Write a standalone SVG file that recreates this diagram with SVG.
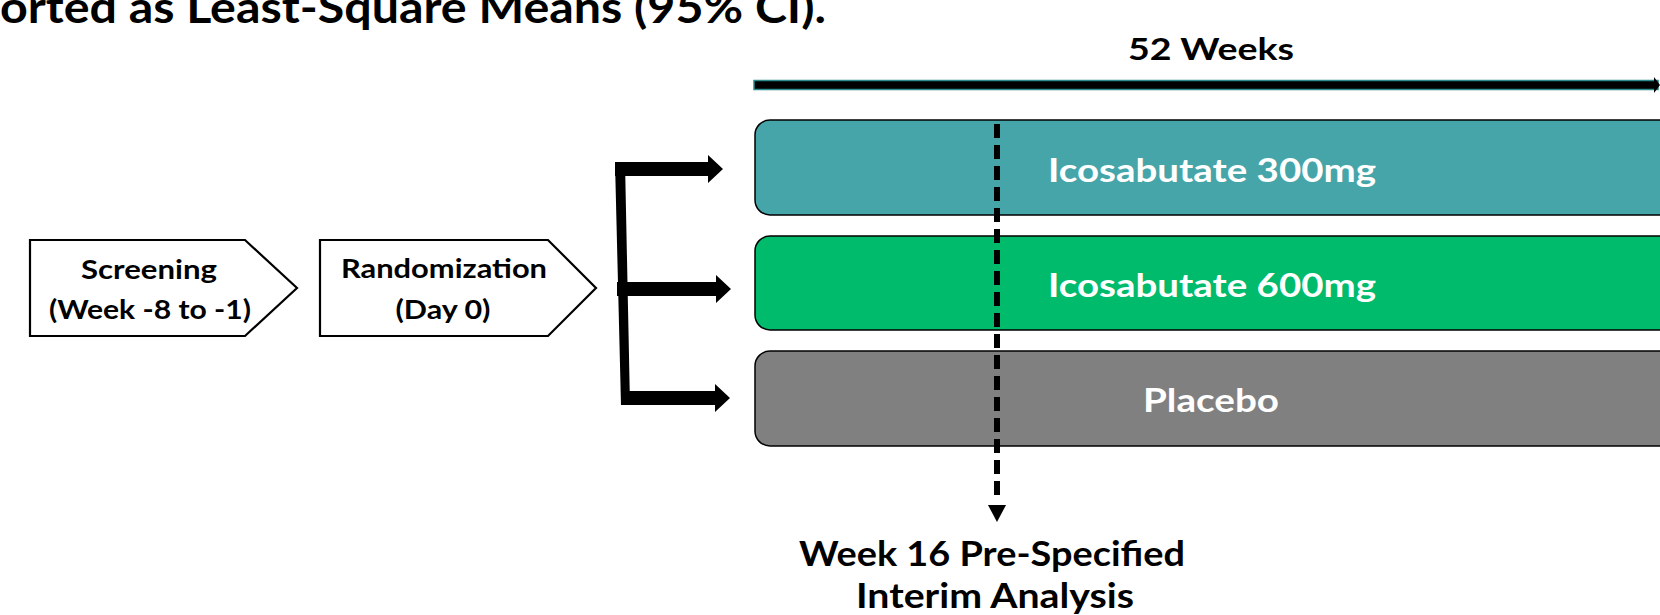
<svg xmlns="http://www.w3.org/2000/svg" width="1660" height="615" viewBox="0 0 1660 615">
<defs>
<style>
.t{font-family:Lato,"Open Sans","Liberation Sans",sans-serif;font-weight:700;fill:#000}
.w{fill:#fff}
.step{fill:#fff;stroke:#000;stroke-width:2.2}
.arm{stroke:#000;stroke-width:1.5}
.conn{fill:#000}
</style>
</defs>
<rect width="1660" height="615" fill="#fff"/>
<text class="t" x="0" y="23" font-size="43" textLength="826" lengthAdjust="spacingAndGlyphs">orted as Least-Square Means (95% CI).</text>

<g id="timeline">
<text class="t" x="1211" y="60" font-size="31" text-anchor="middle" textLength="166" lengthAdjust="spacingAndGlyphs">52 Weeks</text>
<rect x="754" y="80.5" width="904" height="9" fill="#000" stroke="#2E8B8B" stroke-width="1.5"/>
<polygon points="1654,77 1660,85 1654,93" fill="#000"/>
</g>

<g id="screening">
<polygon class="step" points="30,240 245,240 297,288 245,336 30,336"/>
<text class="t" x="149" y="279" font-size="27" text-anchor="middle" textLength="136" lengthAdjust="spacingAndGlyphs">Screening</text>
<text class="t" x="150" y="319" font-size="27" text-anchor="middle" textLength="202" lengthAdjust="spacingAndGlyphs">(Week -8 to -1)</text>
</g>

<g id="randomization">
<polygon class="step" points="320,240 548,240 596,288 548,336 320,336"/>
<text class="t" x="444" y="278" font-size="27" text-anchor="middle" textLength="206" lengthAdjust="spacingAndGlyphs">Randomization</text>
<text class="t" x="443" y="319" font-size="27" text-anchor="middle" textLength="95" lengthAdjust="spacingAndGlyphs">(Day 0)</text>
</g>

<g id="arm300">
<rect class="arm" x="755" y="120" width="920" height="95" rx="15" fill="#46A5A9"/>
<text class="t w" x="1212" y="182" font-size="32" text-anchor="middle" textLength="328" lengthAdjust="spacingAndGlyphs">Icosabutate 300mg</text>
</g>
<g id="arm600">
<rect class="arm" x="755" y="236" width="920" height="94" rx="15" fill="#00BB6B"/>
<text class="t w" x="1212" y="297" font-size="32" text-anchor="middle" textLength="328" lengthAdjust="spacingAndGlyphs">Icosabutate 600mg</text>
</g>
<g id="placebo">
<rect class="arm" x="755" y="351" width="920" height="95" rx="15" fill="#808080"/>
<text class="t w" x="1211" y="412" font-size="32" text-anchor="middle" textLength="136" lengthAdjust="spacingAndGlyphs">Placebo</text>
</g>

<g id="interim">
<text class="t" x="992" y="566" font-size="34" text-anchor="middle" textLength="386" lengthAdjust="spacingAndGlyphs">Week 16 Pre-Specified</text>
<text class="t" x="995" y="608" font-size="34" text-anchor="middle" textLength="278" lengthAdjust="spacingAndGlyphs">Interim Analysis</text>
</g>

<g id="connectors">
<polygon class="conn" points="615,162 625,162 630,405 621,405"/>
<polygon class="conn" points="615,162 708,162 708,155 723,169 708,183 708,176 615,176"/>
<polygon class="conn" points="617,282 716,282 716,275 731,289 716,303 716,296 617,296"/>
<polygon class="conn" points="621,391 715,391 715,384 730,398 715,412 715,405 621,405"/>
<line x1="997" y1="124" x2="997" y2="501" stroke="#000" stroke-width="6" stroke-dasharray="14 7"/>
<polygon class="conn" points="988,505 1006,505 997,522"/>
</g>
</svg>
